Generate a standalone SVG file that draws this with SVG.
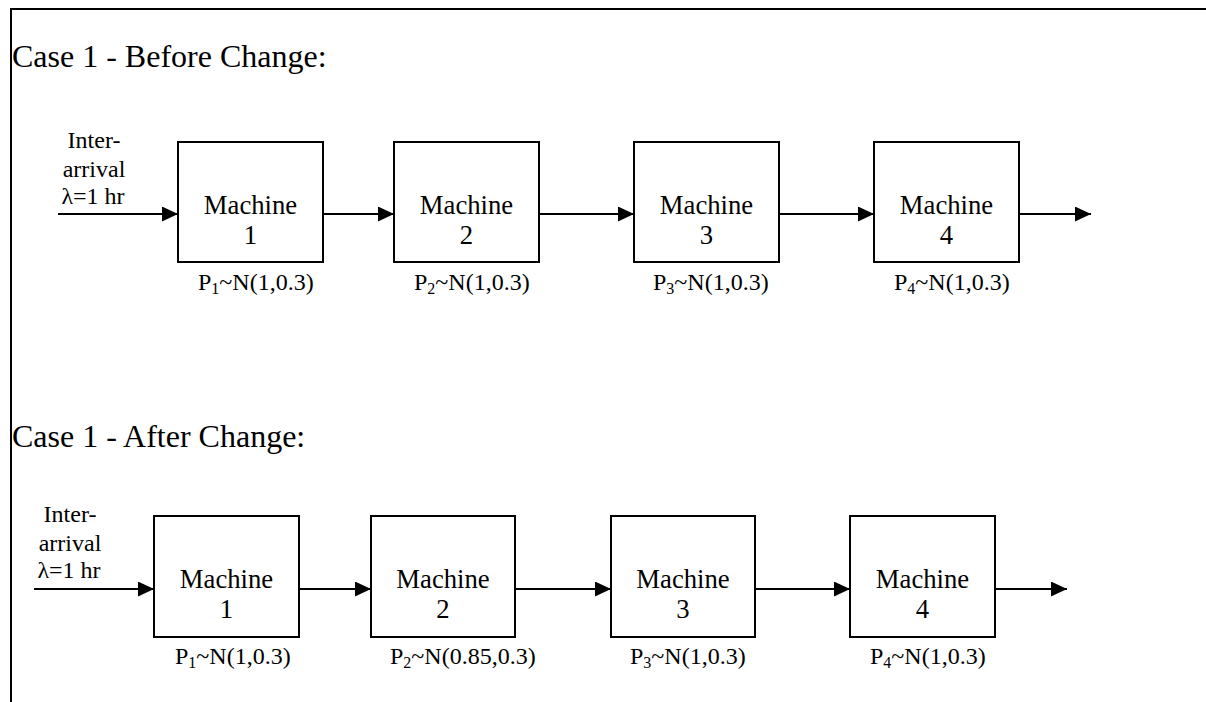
<svg xmlns="http://www.w3.org/2000/svg" width="1206" height="702" viewBox="0 0 1206 702">
<style>
.bg{fill:#ffffff}
.frame{stroke:#000;stroke-width:2;fill:none}
.box{fill:#fff;stroke:#000;stroke-width:2}
.conn{stroke:#000;stroke-width:2;fill:none;marker-end:url(#arr)}
text{font-family:"Liberation Serif","Times New Roman",serif;fill:#000}
.title{font-size:32px}
.mach{font-size:26.7px;text-anchor:middle}
.lbl{font-size:24px}
.sub{font-size:16px}
.ia{font-size:24px;text-anchor:middle}
</style>
<defs>
<marker id="arr" markerUnits="userSpaceOnUse" markerWidth="16" markerHeight="15" refX="16" refY="7.5" orient="auto">
<path d="M0,0 L16,7.5 L0,15 z" fill="#000"/>
</marker>
</defs>
<rect class="bg" x="0" y="0" width="1206" height="702"/>
<g id="frame">
<path class="frame" d="M11,702 V9 H1206"/>
</g>
<g id="titles">
<text class="title" x="12" y="67">Case 1 - Before Change:</text>
<text class="title" x="12" y="447">Case 1 - After Change:</text>
</g>
<g id="connectors">
<line class="conn" x1="58" y1="214" x2="178" y2="214"/>
<line class="conn" x1="323" y1="214" x2="394" y2="214"/>
<line class="conn" x1="539" y1="214" x2="634" y2="214"/>
<line class="conn" x1="779" y1="214" x2="874" y2="214"/>
<line class="conn" x1="1019" y1="214" x2="1091" y2="214"/>
<line class="conn" x1="34" y1="589" x2="154" y2="589"/>
<line class="conn" x1="299" y1="589" x2="371" y2="589"/>
<line class="conn" x1="515" y1="589" x2="611" y2="589"/>
<line class="conn" x1="755" y1="589" x2="850" y2="589"/>
<line class="conn" x1="995" y1="589" x2="1067" y2="589"/>
</g>
<g id="arrival1">
<text class="ia" x="94" y="148">Inter-</text>
<text class="ia" x="94" y="177">arrival</text>
<text class="ia" x="93" y="204">λ=1 hr</text>
</g>
<g id="r1m1">
<rect class="box" x="178" y="142" width="145" height="120"/>
<text class="mach" x="250.5" y="214">Machine</text>
<text class="mach" x="250.5" y="244">1</text>
<text class="lbl" x="198" y="290">P<tspan class="sub" dy="4">1</tspan><tspan dy="-4">~N(1,0.3)</tspan></text>
</g>
<g id="r1m2">
<rect class="box" x="394" y="142" width="145" height="120"/>
<text class="mach" x="466.5" y="214">Machine</text>
<text class="mach" x="466.5" y="244">2</text>
<text class="lbl" x="414" y="290">P<tspan class="sub" dy="4">2</tspan><tspan dy="-4">~N(1,0.3)</tspan></text>
</g>
<g id="r1m3">
<rect class="box" x="634" y="142" width="145" height="120"/>
<text class="mach" x="706.5" y="214">Machine</text>
<text class="mach" x="706.5" y="244">3</text>
<text class="lbl" x="653" y="290">P<tspan class="sub" dy="4">3</tspan><tspan dy="-4">~N(1,0.3)</tspan></text>
</g>
<g id="r1m4">
<rect class="box" x="874" y="142" width="145" height="120"/>
<text class="mach" x="946.5" y="214">Machine</text>
<text class="mach" x="946.5" y="244">4</text>
<text class="lbl" x="894" y="290">P<tspan class="sub" dy="4">4</tspan><tspan dy="-4">~N(1,0.3)</tspan></text>
</g>
<g id="arrival2">
<text class="ia" x="70" y="522">Inter-</text>
<text class="ia" x="70" y="551">arrival</text>
<text class="ia" x="69" y="578">λ=1 hr</text>
</g>
<g id="r2m1">
<rect class="box" x="154" y="516" width="145" height="121"/>
<text class="mach" x="226.5" y="588">Machine</text>
<text class="mach" x="226.5" y="618">1</text>
<text class="lbl" x="175" y="664">P<tspan class="sub" dy="4">1</tspan><tspan dy="-4">~N(1,0.3)</tspan></text>
</g>
<g id="r2m2">
<rect class="box" x="371" y="516" width="144" height="121"/>
<text class="mach" x="443" y="588">Machine</text>
<text class="mach" x="443" y="618">2</text>
<text class="lbl" x="390" y="664">P<tspan class="sub" dy="4">2</tspan><tspan dy="-4">~N(0.85,0.3)</tspan></text>
</g>
<g id="r2m3">
<rect class="box" x="611" y="516" width="144" height="121"/>
<text class="mach" x="683" y="588">Machine</text>
<text class="mach" x="683" y="618">3</text>
<text class="lbl" x="630" y="664">P<tspan class="sub" dy="4">3</tspan><tspan dy="-4">~N(1,0.3)</tspan></text>
</g>
<g id="r2m4">
<rect class="box" x="850" y="516" width="145" height="121"/>
<text class="mach" x="922.5" y="588">Machine</text>
<text class="mach" x="922.5" y="618">4</text>
<text class="lbl" x="870" y="664">P<tspan class="sub" dy="4">4</tspan><tspan dy="-4">~N(1,0.3)</tspan></text>
</g>
</svg>
